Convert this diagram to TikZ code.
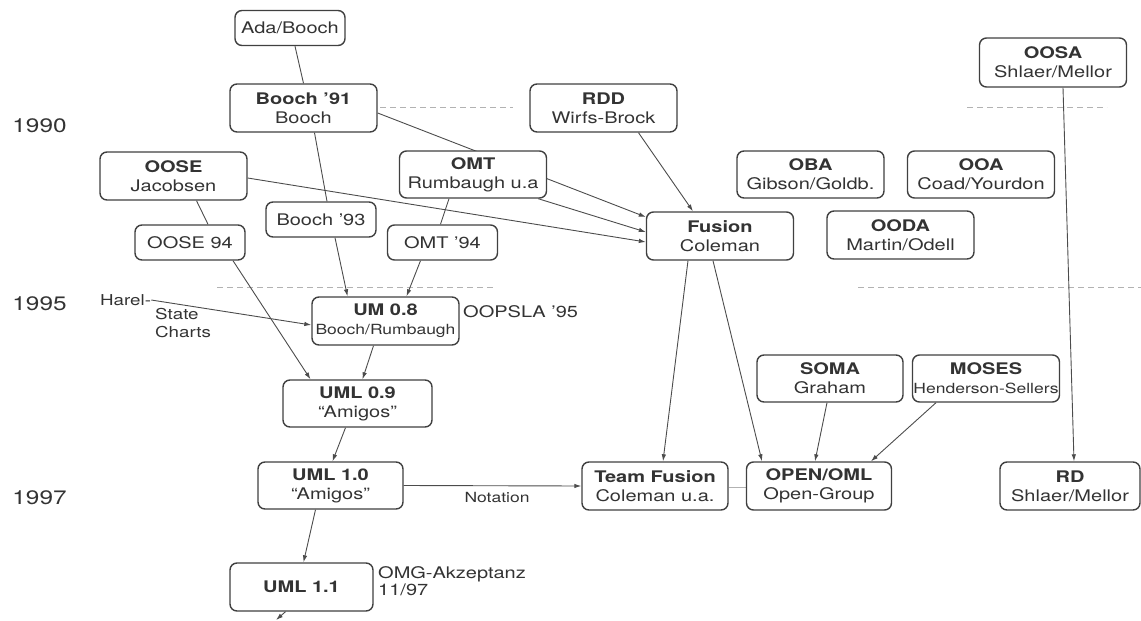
\documentclass[tikz,border=0pt]{standalone}
\usepackage{fontspec}
\setmainfont[FakeStretch=1.25]{TeX Gyre Heros}
\usetikzlibrary{arrows.meta,calc}
\pgfdeclarelayer{back}
\pgfsetlayers{back,main}

\tikzset{
  box/.style={draw=black!75, line width=1.4pt, rounded corners=7pt, fill=white,
    align=center, inner sep=0pt, text=black!80, font=\fontsize{16}{19}\selectfont},
  big/.style={box, minimum width=147pt, minimum height=48pt},
  small/.style={box, minimum width=110pt, minimum height=35pt},
  con/.style={draw=black!70, line width=0.9pt},
  arr/.style={con, -{Latex[length=7pt,width=4.5pt]}},
  yearline/.style={draw=black!30, line width=0.8pt, dash pattern=on 6pt off 4pt},
  note/.style={text=black!80, font=\fontsize{16}{17}\selectfont, inner sep=0pt},
  year/.style={text=black!80, font=\fontsize{19.5}{22}\selectfont, inner sep=0pt},
}

\begin{document}
\begin{tikzpicture}[x=1pt,y=-1pt]
\useasboundingbox (0,0) rectangle (1141,621);

% years
\node[year] (y1990) at (39.5,125.5) {1990};
\node[year] (y1995) at (39.5,304) {1995};
\node[year] (y1997) at (39.5,498) {1997};

% methods
\node[small] (ada) at (290,28) {Ada/Booch};
\node[big] (booch91) at (303.5,108) {\textbf{Booch '91}\\Booch};
\node[big] (rdd) at (603.5,108) {\textbf{RDD}\\Wirfs-Brock};
\node[big, minimum height=49pt] (oosa) at (1053,62.5) {\textbf{OOSA}\\Shlaer/Mellor};
\node[big] (oose) at (173.5,176) {\textbf{OOSE}\\Jacobsen};
\node[big, minimum height=47pt] (omt) at (473,174.5) {\textbf{OMT}\\Rumbaugh u.a};
\node[big, minimum height=47pt] (oba) at (810.5,174.5) {\textbf{OBA}\\Gibson/Goldb.};
\node[big, minimum height=47pt] (ooa) at (981,174.5) {\textbf{OOA}\\Coad/Yourdon};
\node[big] (fusion) at (720,236) {\textbf{Fusion}\\Coleman};
\node[big] (ooda) at (900.5,235) {\textbf{OODA}\\Martin/Odell};
\node[small] (booch93) at (321,219.5) {Booch '93};
\node[small] (oose94) at (190,242.5) {OOSE 94};
\node[small] (omt94) at (442.5,242.5) {OMT '94};
\node[big] (um08) at (385.5,321) {\textbf{UM 0.8}\\{\fontsize{14}{19}\selectfont Booch/Rumbaugh}};
\node[big, minimum width=149pt, minimum height=47pt] (uml09) at (357.5,403.5) {\textbf{UML 0.9}\\``Amigos''};
\node[big, minimum width=145pt, minimum height=47pt] (uml10) at (330.5,485.5) {\textbf{UML 1.0}\\``Amigos''};
\node[big, minimum width=143pt] (uml11) at (301.5,587) {\textbf{UML 1.1}};
\node[big, minimum width=146pt, minimum height=47pt] (soma) at (830,378.5) {\textbf{SOMA}\\Graham};
\node[big, minimum height=47pt] (moses) at (986,378.5) {\textbf{MOSES}\\{\fontsize{14}{19}\selectfont Henderson-Sellers}};
\node[big, minimum width=146pt] (teamf) at (655,486) {\textbf{Team Fusion}\\Coleman u.a.};
\node[big, minimum width=145pt] (open) at (819,486) {\textbf{OPEN/OML}\\Open-Group};
\node[big, minimum width=140pt] (rd) at (1070,486) {\textbf{RD}\\Shlaer/Mellor};

% annotations
\node[note, anchor=west, font=\fontsize{15}{17}\selectfont] (harel) at (100,300) {Harel-};
\node[note, anchor=north west, align=left, font=\fontsize{15}{18}\selectfont] (statecharts) at (155,308) {State\\Charts};
\node[note, anchor=west] (oopsla) at (463,312) {OOPSLA '95};
\node[note, anchor=west, align=left] (omg) at (378,581) {OMG-Akzeptanz\\11/97};
\node[note, font=\fontsize{14}{16}\selectfont] (notation) at (497,497) {Notation};
\coordinate (tail) at (276,620);

\begin{pgfonlayer}{back}
  % year marks
  \draw[yearline] (380,107) -- (513,107);
  \draw[yearline] (967,107) -- (1107,107);
  \draw[yearline] (217,287) -- (495,287);
  \draw[yearline] (858,287) -- (1141,287);

  % lineage
  \draw[con] ($(ada.south)+(5,0)$) -- ($(booch91.north)+(0,0)$);
  \draw[con] ($(booch91.south)+(11,0)$) -- ($(booch93.north)+(6,0)$);
  \draw[arr] ($(booch93.south)+(14,0)$) -- ($(um08.north)+(-38,0)$);
  \draw[con] ($(omt.south)+(-24,0)$) -- ($(omt94.north)+(-2,0)$);
  \draw[arr] ($(omt94.south)+(-22,0)$) -- ($(um08.north)+(21,0)$);
  \draw[con] ($(oose.south)+(23,0)$) -- ($(oose94.north)+(18,0)$);
  \draw[arr] ($(oose94.south)+(43,0)$) -- ($(uml09.north)+(-47,0)$);
  \draw[arr] (harel.east) -- ($(um08.west)+(0,4)$);
  \draw[arr] ($(um08.south)+(-12,0)$) -- ($(uml09.north)+(5,0)$);
  \draw[arr] ($(uml09.south)+(-12,0)$) -- ($(uml10.north)+(2,0)$);
  \draw[arr] ($(uml10.south)+(-15,0)$) -- ($(uml11.north)+(2,0)$);
  \draw[arr] ($(uml11.south)+(-16,0)$) -- (tail);
  \draw[arr] (uml10.east) -- (teamf.west);

  \draw[arr] ($(booch91.east)+(0,5)$) -- ($(fusion.west)+(0,-19)$);
  \draw[arr] ($(omt.south east)+(-9,0)$) -- ($(fusion.west)+(0,-4)$);
  \draw[arr] ($(oose.east)+(0,2)$) -- ($(fusion.west)+(0,6)$);
  \draw[arr] ($(rdd.south)+(35,0)$) -- ($(fusion.north)+(-27,0)$);

  \draw[arr] ($(fusion.south)+(-32,0)$) -- ($(teamf.north)+(8,0)$);
  \draw[arr] ($(fusion.south)+(-7,0)$) -- ($(open.north)+(-57,0)$);
  \draw[arr] ($(soma.south)+(-3,0)$) -- ($(open.north)+(-4,0)$);
  \draw[arr] ($(moses.south)+(-50,0)$) -- ($(open.north)+(52,0)$);
  \draw[arr] ($(oosa.south)+(10,0)$) -- ($(rd.north)+(4,0)$);
  \draw[con, draw=black!30] ($(teamf.east)+(0,1)$) -- ($(open.west)+(0,1)$);
\end{pgfonlayer}
\end{tikzpicture}
\end{document}
